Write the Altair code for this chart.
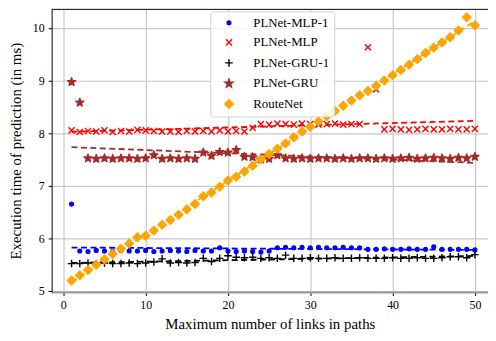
import altair as alt
import pandas as pd

links = list(range(1, 51))

mlp1 = [6.65, 5.76, 5.75, 5.77, 5.76, 5.75, 5.77, 5.76, 5.76, 5.77,
        5.75, 5.76, 5.77, 5.76, 5.75, 5.77, 5.76, 5.76, 5.82, 5.76,
        5.75, 5.76, 5.75, 5.74, 5.76, 5.82, 5.83, 5.82, 5.83, 5.82,
        5.83, 5.82, 5.82, 5.83, 5.82, 5.82, 5.79, 5.79, 5.80, 5.79,
        5.79, 5.80, 5.79, 5.79, 5.84, 5.79, 5.79, 5.79, 5.79, 5.78]

mlp = [8.05, 8.02, 8.04, 8.03, 8.05, 8.02, 8.04, 8.03, 8.06, 8.05,
       8.04, 8.03, 8.03, 8.02, 8.04, 8.03, 8.04, 8.03, 8.05, 8.03,
       8.04, 8.03, 8.10, 8.17, 8.16, 8.18, 8.17, 8.16, 8.18, 8.17,
       8.16, 8.17, 8.18, 8.16, 8.17, 8.17, 9.63, 8.83, 8.07, 8.08,
       8.07, 8.06, 8.07, 8.08, 8.07, 8.07, 8.08, 8.07, 8.07, 8.08]

gru1 = [5.52, 5.52, 5.53, 5.52, 5.53, 5.52, 5.52, 5.53, 5.52, 5.53,
        5.55, 5.61, 5.53, 5.54, 5.53, 5.54, 5.62, 5.56, 5.62, 5.67,
        5.64, 5.63, 5.64, 5.62, 5.63, 5.62, 5.68, 5.62, 5.62, 5.63,
        5.62, 5.62, 5.63, 5.62, 5.62, 5.63, 5.62, 5.62, 5.62, 5.63,
        5.62, 5.62, 5.63, 5.62, 5.62, 5.63, 5.65, 5.65, 5.63, 5.69]

gru = [8.97, 8.58, 7.52, 7.51, 7.52, 7.51, 7.52, 7.52, 7.51, 7.52,
       7.58, 7.51, 7.52, 7.51, 7.52, 7.51, 7.63, 7.57, 7.64, 7.63,
       7.68, 7.55, 7.54, 7.50, 7.51, 7.58, 7.52, 7.51, 7.52, 7.51,
       7.52, 7.52, 7.51, 7.52, 7.51, 7.52, 7.52, 7.51, 7.52, 7.51,
       7.52, 7.53, 7.51, 7.52, 7.53, 7.52, 7.51, 7.53, 7.52, 7.55]

routenet = [5.20, 5.30, 5.40, 5.50, 5.60, 5.70, 5.80, 5.90, 6.02, 6.05,
            6.15, 6.26, 6.35, 6.45, 6.55, 6.65, 6.80, 6.87, 6.98, 7.10,
            7.17, 7.27, 7.38, 7.50, 7.60, 7.70, 7.80, 7.92, 8.03, 8.12,
            8.22, 8.32, 8.42, 8.52, 8.62, 8.72, 8.80, 8.90, 9.00, 9.10,
            9.20, 9.30, 9.40, 9.52, 9.62, 9.72, 9.82, 9.95, 10.20, 10.05]

names = ["PLNet-MLP-1", "PLNet-MLP", "PLNet-GRU-1", "PLNet-GRU", "RouteNet"]
colors = ["#0000ff", "#ff0000", "#000000", "#a52a2a", "#ffa500"]

# marker outlines in unit coordinates (all drawn at the same symbol size)
DOT = "M0.38,0A0.38,0.38 0 1,1 -0.38,0A0.38,0.38 0 1,1 0.38,0Z"
XMARK = "M-0.62,-0.62L0.62,0.62M-0.62,0.62L0.62,-0.62"
PLUS = "M-0.76,0L0.76,0M0,-0.76L0,0.76"
STAR = ("M0,-0.86L0.202,-0.278L0.818,-0.266L0.327,0.107L0.506,0.696L0,0.344"
        "L-0.506,0.696L-0.327,0.107L-0.818,-0.266L-0.202,-0.278Z")
DIAMOND = "M0,-0.86L0.86,0L0,0.86L-0.86,0Z"
shapes = [DOT, XMARK, PLUS, STAR, DIAMOND]

rows = []
for name, col, vals in zip(names, colors, [mlp1, mlp, gru1, gru, routenet]):
    for xv, yv in zip(links, vals):
        rows.append({"series": name, "lc": col, "links": xv, "time": yv})
df = pd.DataFrame(rows)

FONT = "Liberation Serif"
W, H = 440, 285

xs = alt.Scale(domain=[-1.42, 51.59], nice=False, zero=False)
ys = alt.Scale(domain=[4.98, 10.35], nice=False, zero=False)

xenc = alt.X("links:Q", scale=xs,
             axis=alt.Axis(title="Maximum number of links in paths",
                           values=[0, 10, 20, 30, 40, 50], format="d",
                           domainColor="#9a9a9a", domainWidth=2))
yenc = alt.Y("time:Q", scale=ys,
             axis=alt.Axis(title="Execution time of prediction (in ms)",
                           values=[5, 6, 7, 8, 9, 10], format="d",
                           domainColor="#000000", domainWidth=1))

leg = alt.Legend(title=None, orient="none", legendX=160, legendY=2,
                 labelFont=FONT, labelFontSize=13, labelLimit=300)

base = alt.Chart(df)

reg = base.transform_regression("links", "time", groupby=["series", "lc"])

lines_under = reg.transform_filter(alt.datum.series != "RouteNet").mark_line(
    strokeDash=[6, 3.5], strokeWidth=1.8).encode(
    x=xenc, y=yenc, color=alt.Color("lc:N", scale=None), detail="series:N")

points = base.mark_point(opacity=1, strokeWidth=1.4, size=100, strokeJoin="round").encode(
    x=xenc, y=yenc,
    fill=alt.Fill("series:N", scale=alt.Scale(domain=names, range=colors), legend=leg),
    stroke=alt.Stroke("series:N", scale=alt.Scale(domain=names, range=colors), legend=leg),
    shape=alt.Shape("series:N", scale=alt.Scale(domain=names, range=shapes), legend=leg),
    order=alt.Order("idx:Q"),
).transform_window(idx="row_number()")

lines_over = reg.transform_filter(alt.datum.series == "RouteNet").mark_line(
    strokeDash=[6, 3.5], strokeWidth=1.8).encode(
    x=xenc, y=yenc, color=alt.Color("lc:N", scale=None))

top = alt.Chart(pd.DataFrame({"a": [0]})).mark_rule(color="#000000", strokeWidth=1).encode(
    x=alt.value(0), x2=alt.value(W), y=alt.value(0))

chart = alt.layer(lines_under, points, lines_over, top).properties(
    width=W, height=H,
    autosize=alt.AutoSizeParams(type="none"),
    padding={"left": 44, "top": 0, "right": 0, "bottom": 45},
).configure_view(stroke=None).configure_axis(
    labelFont=FONT, titleFont=FONT, labelFontSize=12, titleFontSize=15,
    titleFontWeight="normal", labelColor="#000000", titleColor="#000000",
    tickColor="#000000", tickSize=3.5, labelPadding=4,
    gridColor="#c8c8c8", gridWidth=1.2,
).configure_axisY(titlePadding=9).configure_axisX(titlePadding=6).configure_legend(
    padding=5, symbolOffset=7.3, labelOffset=18, rowPadding=5.75,
    strokeColor="#d0d0d0", fillColor="rgba(255,255,255,0.85)",
    cornerRadius=3, labelFont=FONT, labelFontSize=13, labelLimit=300,
    labelColor="#000000", symbolStrokeWidth=1.4, symbolOpacity=1,
    symbolSize=100,
)

chart.save("out.html", embed_options={"renderer": "svg", "actions": False})
